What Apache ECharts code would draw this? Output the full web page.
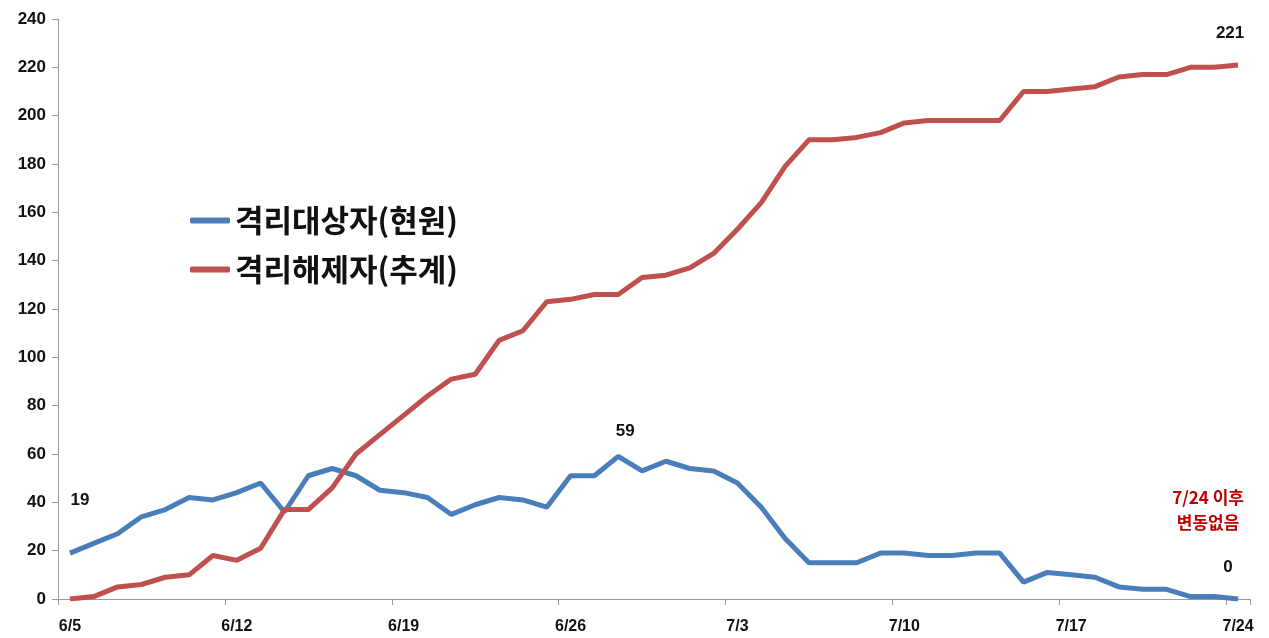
<!DOCTYPE html>
<html><head><meta charset="utf-8">
<script src="https://cdn.jsdelivr.net/npm/echarts@6/dist/echarts.min.js"></script>
<style>html,body{margin:0;padding:0;background:#fff}#c{width:1269px;height:638px}</style>
</head><body><div id="c"></div>
<script>
const categories = ['6/5','6/6','6/7','6/8','6/9','6/10','6/11','6/12','6/13','6/14','6/15','6/16','6/17','6/18','6/19','6/20','6/21','6/22','6/23','6/24','6/25','6/26','6/27','6/28','6/29','6/30',
'7/1','7/2','7/3','7/4','7/5','7/6','7/7','7/8','7/9','7/10','7/11','7/12','7/13','7/14','7/15','7/16','7/17','7/18','7/19','7/20','7/21','7/22','7/23','7/24'];
const quarantined = [19,23,27,34,37,42,41,44,48,36,51,54,51,45,44,42,35,39,42,41,38,51,51,59,53,57,54,53,48,38,25,15,15,15,19,19,18,18,19,19,7,11,10,9,5,4,4,1,1,0];
const released = [0,1,5,6,9,10,18,16,21,37,37,46,60,68,76,84,91,93,107,111,123,124,126,126,133,134,137,143,153,164,179,190,190,191,193,197,198,198,198,198,210,210,211,212,216,217,217,220,220,221];
const yTicks = {min:0, max:240, interval:20};
const seriesNames = ['격리대상자(현원)','격리해제자(추계)'];
const note = '7/24 이후\n변동없음';

const lblFont = {fontFamily:'Liberation Sans, Arial, sans-serif', fontWeight:'bold', fontSize:17, color:'#111'};
function withLabels(arr, labels){
  return arr.map((v,i)=> labels[i] ? {value:v, label:Object.assign({show:true, formatter:String(v)}, lblFont, labels[i])} : v);
}
const blueData = withLabels(quarantined, {
  0:{position:'top', distance:44, offset:[10,0]},
  23:{position:'top', distance:17, offset:[7,0]},
  49:{position:'top', distance:23, offset:[-10,0]}
});
const redData = withLabels(released, {
  49:{position:'top', distance:23, offset:[-8,0]}
});

const chart = echarts.init(document.getElementById('c'));
chart.setOption({
  animation:false,
  backgroundColor:'#fff',
  grid:{left:58, right:19, top:19, bottom:39},
  legend:{
    orient:'vertical', left:185, top:200, itemGap:18, itemWidth:40, itemHeight:6, icon:'roundRect',
    textStyle:{fontFamily:'Noto Sans CJK KR', fontWeight:'bold', fontSize:31, color:'#111'},
    data:seriesNames
  },
  xAxis:{
    type:'category', data:categories, boundaryGap:true,
    axisLine:{lineStyle:{color:'#999', width:1}},
    axisTick:{show:true, interval:6, length:6, lineStyle:{color:'#999'}},
    axisLabel:{interval:6, margin:20, fontFamily:'Liberation Sans, Arial, sans-serif', fontWeight:'bold', fontSize:16, color:'#111'},
    splitLine:{show:false}
  },
  yAxis:{
    type:'value', min:yTicks.min, max:yTicks.max, interval:yTicks.interval,
    axisLine:{show:true, lineStyle:{color:'#999'}},
    axisTick:{show:true, length:6, lineStyle:{color:'#999'}},
    axisLabel:{margin:12, fontFamily:'Liberation Sans, Arial, sans-serif', fontWeight:'bold', fontSize:17, color:'#111'},
    splitLine:{show:false}
  },
  series:[
    {name:seriesNames[0], type:'line', data:blueData, showSymbol:true, symbol:'circle', symbolSize:0,
     lineStyle:{color:'#4a7ebb', width:5}, itemStyle:{color:'#4a7ebb'},
     markPoint:{symbol:'circle', symbolSize:0, data:[{coord:[49,0], value:0,
       label:{show:true, formatter:note, position:'inside', offset:[-30,-89], fontFamily:'Noto Sans CJK KR', fontWeight:'bold', fontSize:17, lineHeight:25, color:'#c00000', align:'center'}}]}
    },
    {name:seriesNames[1], type:'line', data:redData, showSymbol:true, symbol:'circle', symbolSize:0,
     lineStyle:{color:'#c0504d', width:5}, itemStyle:{color:'#c0504d'}}
  ]
});
</script></body></html>
